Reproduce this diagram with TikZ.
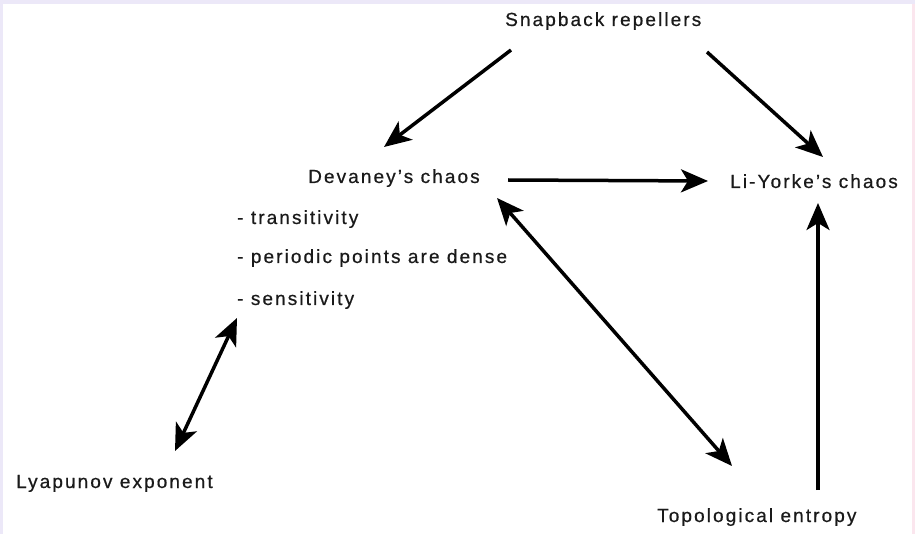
\documentclass[tikz,border=0pt]{standalone}
\usepackage{fontspec}
\setmainfont{Liberation Sans}[LetterSpace=11,FakeBold=0.6]
\usetikzlibrary{arrows.meta}
\definecolor{lav}{HTML}{ECE8F8}
\definecolor{pinkb}{HTML}{FBE6EE}
\definecolor{ink}{HTML}{1A1A1A}
\tikzset{
  lbl/.style={anchor=base west, inner sep=0pt, text=ink, font=\fontsize{19}{22}\selectfont},
  conn/.style={line width=3.5pt, draw=black, -{Stealth[length=27pt,width=23pt,inset=7pt]}},
  biconn/.style={line width=3.5pt, draw=black, {Stealth[length=27pt,width=23pt,inset=7pt]}-{Stealth[length=27pt,width=23pt,inset=7pt]}}
}
\begin{document}
\begin{tikzpicture}[x=1pt,y=-1pt]
\useasboundingbox (0,0) rectangle (915,534);
\fill[lav] (0,0) rectangle (915,534);
\fill[pinkb] (912,4) rectangle (915,534);
\fill[white] (3,4) rectangle (912,534);

\node[lbl] (snap) at (505,26) {Snapback repellers};
\node[lbl] (dev) at (308,183) {Devaney’s chaos};
\node[lbl] (ly) at (730,188) {Li-Yorke’s chaos};
\node[lbl] (tr) at (237,224) {- transitivity};
\node[lbl] (pp) at (237,263) {- periodic points are dense};
\node[lbl] (se) at (237,305) {- sensitivity};
\node[lbl] (lyap) at (16,488) {Lyapunov exponent};
\node[lbl] (top) at (657,522) {Topological entropy};

\coordinate (snapA) at (511,50);
\coordinate (devA) at (384,147);
\coordinate (snapB) at (707,52);
\coordinate (lyA) at (823,157);
\coordinate (devB) at (508,180);
\coordinate (lyB) at (708,181);
\coordinate (devC) at (497,198);
\coordinate (topA) at (732,466);
\coordinate (topB) at (818,490);
\coordinate (lyC) at (818,203);
\coordinate (seA) at (237,318);
\coordinate (lyapA) at (175,451);

\draw[conn] (snapA) -- (devA);
\draw[conn] (snapB) -- (lyA);
\draw[conn] (devB) -- (lyB);
\draw[biconn] (devC) -- (topA);
\draw[conn] (topB) -- (lyC);
\draw[biconn] (seA) -- (lyapA);
\end{tikzpicture}
\end{document}
